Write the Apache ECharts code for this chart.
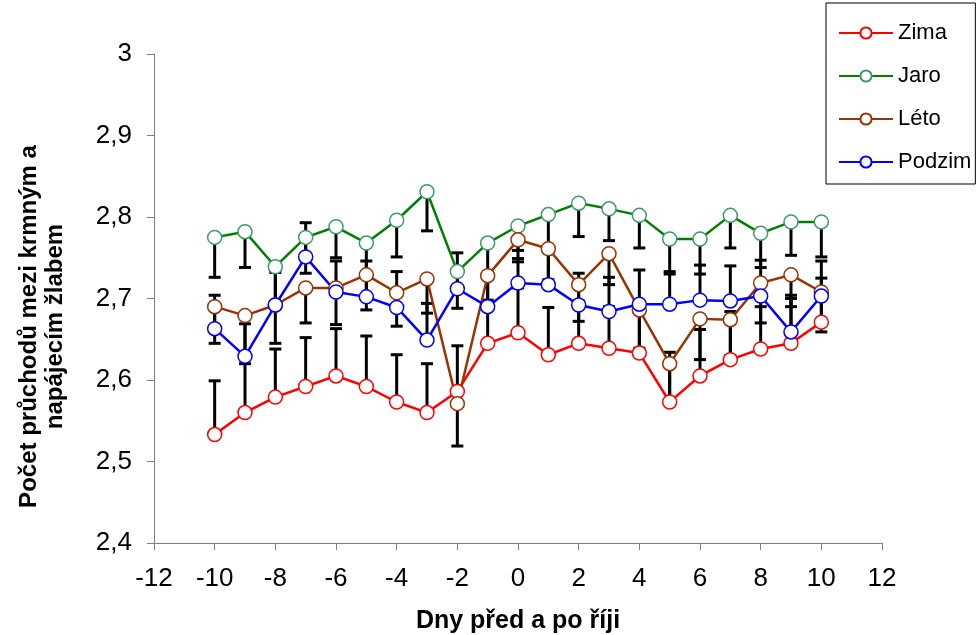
<!DOCTYPE html>
<html>
<head>
  <meta charset="UTF-8">
  <title></title>
  <script src="https://cdn.jsdelivr.net/npm/echarts@6/dist/echarts.min.js"></script>
  <style type="text/css">
    *{ margin:0; padding:0; }
    body{ background:#fff; }
    #main{ width:979px; height:635px; }
  </style>
</head>
<body>
  <div id="main"></div>
  <script type="text/javascript">
  // dny před a po říji
  var days = [-10,-9,-8,-7,-6,-5,-4,-3,-2,-1,0,1,2,3,4,5,6,7,8,9,10];
  var names = ['Zima','Jaro','Léto','Podzim'];

  var zima   = [2.533,2.560,2.579,2.592,2.605,2.592,2.573,2.560,2.586,2.645,2.658,2.631,2.645,2.639,2.633,2.573,2.605,2.625,2.638,2.645,2.671];
  var jaro   = [2.775,2.782,2.739,2.775,2.788,2.768,2.796,2.831,2.733,2.768,2.789,2.803,2.817,2.810,2.802,2.773,2.773,2.802,2.780,2.794,2.794];
  var leto   = [2.690,2.679,2.692,2.713,2.713,2.729,2.707,2.724,2.571,2.728,2.772,2.761,2.717,2.755,2.686,2.620,2.675,2.674,2.719,2.729,2.708];
  var podzim = [2.663,2.629,2.692,2.751,2.708,2.702,2.689,2.649,2.712,2.690,2.719,2.717,2.692,2.684,2.693,2.693,2.698,2.697,2.703,2.659,2.703];

  // chybové úsečky (Zima a Podzim nahoru, Jaro a Léto dolů)
  var zimaErr   = [0.066,0.060,0.059,0.060,0.058,0.062,0.058,0.060,0.056,0.053,0.055,0.058,0.052,0.051,0.052,0.061,0.057,0.059,0.052,0.059,0.054];
  var jaroErr   = [0.049,0.044,0.050,0.044,0.038,0.040,0.045,0.048,0.045,0.044,0.030,0.040,0.041,0.039,0.040,0.040,0.043,0.040,0.042,0.041,0.043];
  var letoErr   = [0.045,0.045,0.047,0.043,0.045,0.043,0.041,0.042,0.052,0.035,0.027,0.038,0.045,0.038,0.047,0.045,0.050,0.044,0.049,0.039,0.049];
  var podzimErr = [0.041,0.040,0.040,0.042,0.038,0.044,0.044,0.045,0.044,0.040,0.030,0.040,0.039,0.042,0.042,0.037,0.043,0.043,0.044,0.041,0.043];

  var yTicks = [2.4,2.5,2.6,2.7,2.8,2.9,3];

  var font = 'Liberation Sans, Arial, sans-serif';

  function pairs(vals){
    return days.map(function(d,i){ return [d, vals[i]]; });
  }
  function errData(vals, err, dir){
    return days.map(function(d,i){ return [d, vals[i], vals[i] + dir*err[i]]; });
  }
  function errRender(params, api){
    var x = api.value(0);
    var p1 = api.coord([x, api.value(1)]);
    var p2 = api.coord([x, api.value(2)]);
    return {type:'group', children:[
      {type:'line', shape:{x1:p1[0],y1:p1[1],x2:p2[0],y2:p2[1]}, style:{stroke:'#000',lineWidth:3}},
      {type:'line', shape:{x1:p2[0]-6,y1:p2[1],x2:p2[0]+6,y2:p2[1]}, style:{stroke:'#000',lineWidth:3}}
    ]};
  }
  function errSeries(vals, err, dir){
    return {type:'custom', renderItem:errRender, data:errData(vals, err, dir),
            encode:{x:0, y:[1,2]}, z:1, silent:true};
  }
  function lineSeries(name, vals, color, border){
    return {name:name, type:'line', data:pairs(vals), z:3,
            symbol:'circle', symbolSize:14,
            lineStyle:{color:color, width:2.5},
            itemStyle:{color:'#fff', borderColor:border, borderWidth:1.5},
            emphasis:{disabled:true}};
  }

  var myChart = echarts.init(document.getElementById('main'));
  var option = {
    backgroundColor:'#fff',
    animation:false,
    grid:{left:154, top:54, width:728, height:489, containLabel:false, outerBoundsMode:'none'},
    legend:{
      data:names, orient:'vertical', left:826, top:3,
      padding:[19,4,11,12], itemGap:21,
      itemWidth:54, itemHeight:14,
      borderColor:'#000', borderWidth:1, borderRadius:0, backgroundColor:'#fff',
      textStyle:{fontFamily:font, fontSize:22, lineHeight:22, color:'#000'}
    },
    xAxis:{
      type:'value', min:-12, max:12, interval:2,
      name:'Dny před a po říji', nameLocation:'middle', nameGap:66,
      nameTextStyle:{fontFamily:font, fontSize:25, fontWeight:'bold', color:'#000'},
      axisLine:{show:true, onZero:false, lineStyle:{color:'#808080', width:1}},
      axisTick:{show:true, inside:false, length:7, lineStyle:{color:'#808080'}},
      axisLabel:{fontFamily:font, fontSize:26, color:'#000', margin:23},
      splitLine:{show:false}
    },
    yAxis:{
      type:'value', min:yTicks[0], max:yTicks[yTicks.length-1], interval:0.1,
      name:'Počet průchodů mezi krmným a\nnapájecím žlabem', nameLocation:'middle', nameGap:86,
      nameRotate:90,
      nameTextStyle:{fontFamily:font, fontSize:24, fontWeight:'bold', color:'#000', lineHeight:26,
        padding:[0,56,0,0]},
      axisLine:{show:true, onZero:false, lineStyle:{color:'#808080', width:1}},
      axisTick:{show:true, inside:false, length:7, lineStyle:{color:'#808080'}},
      axisLabel:{fontFamily:font, fontSize:26, color:'#000', margin:22,
        formatter:function(v){ return String(Math.round(v*10)/10).replace('.', ','); }},
      splitLine:{show:false}
    },
    series:[
      errSeries(zima, zimaErr, 1),
      errSeries(jaro, jaroErr, -1),
      errSeries(leto, letoErr, -1),
      errSeries(podzim, podzimErr, 1),
      lineSeries('Zima', zima, '#FF0000', '#FF0000'),
      lineSeries('Jaro', jaro, '#008000', '#3C9B6E'),
      lineSeries('Léto', leto, '#993300', '#993300'),
      lineSeries('Podzim', podzim, '#0000FF', '#0000FF')
    ]
  };
  myChart.setOption(option);
  </script>
</body>
</html>
